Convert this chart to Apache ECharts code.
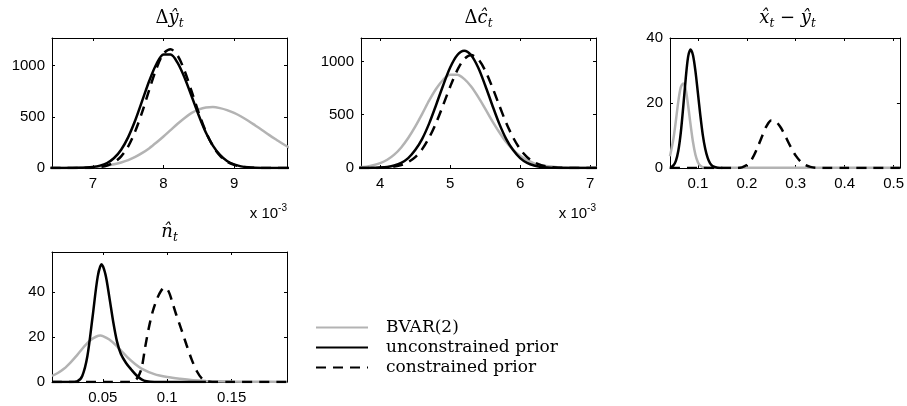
<!DOCTYPE html>
<html>
<head>
<meta charset="utf-8">
<script src="https://cdn.jsdelivr.net/npm/echarts@6/dist/echarts.min.js"></script>
<style>
  html, body { margin: 0; padding: 0; background: #fff; }
  #chart { width: 907px; height: 406px; }
</style>
</head>
<body>
<div id="chart"></div>
<script>
// 系列名称
const names = ['BVAR(2)', 'unconstrained prior', 'constrained prior']

// 面板1: Δŷ (单位 10^-3)
const dyX = [6.4, 6.5, 6.6, 6.7, 6.8, 6.9, 7.0, 7.1, 7.2, 7.3, 7.4, 7.5, 7.6, 7.7, 7.8, 7.9, 8.0, 8.1, 8.2, 8.3, 8.4, 8.5, 8.6, 8.7, 8.8, 8.9, 9.0, 9.1, 9.2, 9.3, 9.4, 9.5, 9.6, 9.7, 9.8]
const dyBvar = [0.3, 0.5, 1, 1.8, 3.2, 5.5, 9.2, 15, 24, 36, 54, 77, 109, 148, 194, 249, 308, 370, 432, 489, 538, 572, 592, 595, 585, 566, 538, 503, 462, 416, 369, 321, 276, 232, 193]
const dyUnc = [0, 0, 0, 0.4, 1.3, 3.7, 9.5, 23, 49, 98, 179, 302, 466, 660, 855, 1016, 1108, 1109, 1027, 880, 699, 513, 347, 219, 128, 69, 35, 16, 7, 3, 1, 0.4, 0, 0, 0]
const dyCon = [0, 0, 0, 0, 0.3, 1.1, 3.5, 10, 24, 55, 113, 212, 360, 551, 769, 972, 1118, 1160, 1098, 947, 746, 538, 355, 215, 120, 62, 30, 13, 5, 2, 0.7, 0, 0, 0, 0]

// 面板2: Δĉ (单位 10^-3)
const dcX = [3.7, 3.8, 3.9, 4.0, 4.1, 4.2, 4.3, 4.4, 4.5, 4.6, 4.7, 4.8, 4.9, 5.0, 5.1, 5.2, 5.3, 5.4, 5.5, 5.6, 5.7, 5.8, 5.9, 6.0, 6.1, 6.2, 6.3, 6.4, 6.5, 6.6, 6.7, 6.8, 6.9, 7.0, 7.1]
const dcBvar = [6, 13, 25, 45, 77, 125, 193, 281, 388, 508, 634, 744, 828, 874, 875, 836, 764, 667, 557, 443, 338, 244, 171, 114, 73, 44, 26, 16, 10, 7, 5, 4, 3, 2.5, 2]
const dcUnc = [0, 0.6, 1.6, 4.3, 10, 23, 48, 93, 168, 274, 419, 594, 777, 943, 1058, 1100, 1058, 943, 777, 594, 419, 274, 168, 93, 48, 23, 10, 4.3, 1.6, 0.6, 0, 0, 0, 0, 0]
const dcCon = [0, 0.3, 0.8, 2, 5.5, 13, 27.5, 55, 102, 177, 286, 425, 591, 763, 916, 1022, 1060, 1022, 916, 763, 591, 425, 286, 177, 102, 55, 27.5, 13, 5.5, 2, 0.8, 0.3, 0, 0, 0]

// 面板3: x̂ - ŷ
const xyBvarX = [0.043, 0.05, 0.055, 0.06, 0.065, 0.07, 0.075, 0.08, 0.085, 0.09, 0.095, 0.1, 0.105, 0.11, 0.12, 0.13, 0.15, 0.2, 0.3, 0.4, 0.513]
const xyBvar = [3.6, 9, 14.5, 20.5, 24.8, 26, 24.2, 19.3, 13.4, 8, 4.1, 1.8, 0.7, 0.25, 0.1, 0.05, 0.05, 0.05, 0.05, 0.05, 0.05]
const xyUncX = [0.043, 0.05, 0.055, 0.06, 0.065, 0.07, 0.075, 0.08, 0.085, 0.09, 0.095, 0.1, 0.105, 0.11, 0.115, 0.12, 0.125, 0.13, 0.14, 0.15]
const xyUnc = [0, 0.8, 2.2, 5.3, 10.8, 18.7, 27.3, 34.2, 36.5, 34.7, 29.8, 23.1, 16.2, 10.2, 5.9, 3.1, 1.4, 0.6, 0.1, 0]
const xyConX = [0.043, 0.1, 0.15, 0.18, 0.19, 0.2, 0.21, 0.22, 0.23, 0.24, 0.25, 0.26, 0.27, 0.28, 0.29, 0.3, 0.31, 0.32, 0.33, 0.34, 0.36, 0.4, 0.45, 0.513]
const xyCon = [0, 0, 0, 0, 0.2, 0.9, 2.6, 5.6, 9.3, 12.8, 14.6, 14.2, 12.3, 9.4, 6.4, 3.8, 2.0, 0.9, 0.35, 0.1, 0, 0, 0, 0]

// 面板4: n̂
const nBvarX = [0.0105, 0.015, 0.02, 0.025, 0.03, 0.035, 0.04, 0.045, 0.048, 0.05, 0.055, 0.06, 0.065, 0.07, 0.075, 0.08, 0.09, 0.1, 0.11, 0.12, 0.13, 0.15, 0.17, 0.193]
const nBvar = [2.7, 4, 6, 8.8, 12, 15.5, 18.5, 20.3, 20.7, 20.5, 19, 16.5, 13.5, 10.5, 8, 6, 3.5, 2.2, 1.4, 0.8, 0.5, 0.2, 0.1, 0.05]
const nUncX = [0.0105, 0.025, 0.03, 0.034, 0.038, 0.042, 0.046, 0.049, 0.052, 0.055, 0.058, 0.061, 0.064, 0.068, 0.072, 0.076, 0.08, 0.084, 0.09, 0.13]
const nUnc = [0, 0, 0.3, 2.7, 11.6, 29, 47, 52.5, 48, 38, 27, 18, 12.5, 8.5, 5.6, 3, 1.2, 0.3, 0, 0]
const nConX = [0.0105, 0.05, 0.07, 0.074, 0.077, 0.08, 0.083, 0.086, 0.089, 0.092, 0.095, 0.098, 0.101, 0.104, 0.107, 0.111, 0.115, 0.119, 0.123, 0.127, 0.131, 0.135, 0.15, 0.193]
const nCon = [0, 0, 0, 0.3, 2, 6, 16, 25, 32, 37, 40.5, 42.2, 40.5, 35.5, 30, 23.4, 16.5, 10, 4.8, 1.5, 0.3, 0, 0, 0]

// 坐标轴范围和刻度
const panelXMin = [6.42, 3.725, 0.043, 0.0105]
const panelXMax = [9.75, 7.085, 0.513, 0.193]
const panelYMax = [1270, 1220, 40, 58]
const panelXTicks = [[7, 8, 9], [4, 5, 6, 7], [0.1, 0.2, 0.3, 0.4, 0.5], [0.05, 0.1, 0.15]]
const panelYTicks = [[0, 500, 1000], [0, 500, 1000], [0, 20, 40], [0, 20, 40]]

// 每个面板的曲线 [x, y]
const panelCurves = [
  [[dyX, dyBvar], [dyX, dyUnc], [dyX, dyCon]],
  [[dcX, dcBvar], [dcX, dcUnc], [dcX, dcCon]],
  [[xyBvarX, xyBvar], [xyUncX, xyUnc], [xyConX, xyCon]],
  [[nBvarX, nBvar], [nUncX, nUnc], [nConX, nCon]],
]

// 子图位置
const boxes = [
  { left: 52, top: 38 },
  { left: 361, top: 38 },
  { left: 670, top: 38 },
  { left: 52, top: 252 },
]
const boxW = 235
const boxH = 130

const sans = 'Liberation Sans'
const serif = 'DejaVu Serif'
const gray = '#b3b3b3'

function pairs(xs, ys) {
  return xs.map((x, i) => [x, ys[i]])
}

// 一个方向的坐标轴, 有标签或只有刻度
function makeAxis(i, pos, min, max, ticks, withLabel) {
  return {
    type: 'value',
    gridIndex: i,
    position: pos,
    min,
    max,
    axisLine: { show: true, onZero: false, lineStyle: { color: '#000', width: 1 } },
    axisTick: { show: true, inside: true, length: 3, customValues: ticks, lineStyle: { color: '#000', width: 1 } },
    axisLabel: {
      show: withLabel,
      customValues: ticks,
      formatter: v => String(v),
      margin: pos === 'left' ? 7 : 8,
      color: '#000',
      fontFamily: sans,
      fontSize: 15,
    },
    splitLine: { show: false },
  }
}

const grid = []
const xAxis = []
const yAxis = []
const series = []

boxes.forEach((b, i) => {
  grid.push({ left: b.left, top: b.top, width: boxW, height: boxH })
  xAxis.push(makeAxis(i, 'bottom', panelXMin[i], panelXMax[i], panelXTicks[i], true))
  xAxis.push(makeAxis(i, 'top', panelXMin[i], panelXMax[i], panelXTicks[i], false))
  yAxis.push(makeAxis(i, 'left', 0, panelYMax[i], panelYTicks[i], true))
  yAxis.push(makeAxis(i, 'right', 0, panelYMax[i], panelYTicks[i], false))

  panelCurves[i].forEach((c, k) => {
    series.push({
      name: names[k],
      type: 'line',
      xAxisIndex: 2 * i,
      yAxisIndex: 2 * i,
      data: pairs(c[0], c[1]),
      symbol: 'none',
      showSymbol: false,
      smooth: 0.3,
      lineStyle: {
        color: k === 0 ? gray : '#000',
        width: 2.5,
        type: k === 2 ? [10, 7] : 'solid',
      },
      itemStyle: { color: k === 0 ? gray : '#000' },
    })
  })
})

// 标题 (数学符号)
const titleRich = {
  u: { fontFamily: serif, fontSize: 18, color: '#444', lineHeight: 24 },
  m: { fontFamily: serif, fontSize: 18, fontStyle: 'italic', color: '#444', lineHeight: 24 },
  s: { fontFamily: serif, fontSize: 12, fontStyle: 'italic', color: '#444', lineHeight: 12, verticalAlign: 'bottom' },
}
const titles = [
  '{u|Δ}{m|ŷ}{s|t}',
  '{u|Δ}{m|ĉ}{s|t}',
  '{m|x̂}{s|t}{u| − }{m|ŷ}{s|t}',
  '{m|n̂}{s|t}',
]
const graphic = titles.map((t, i) => ({
  type: 'text',
  x: boxes[i].left + boxW / 2,
  y: boxes[i].top - 20,
  style: { text: t, rich: titleRich, align: 'center', verticalAlign: 'middle', textAlign: 'center', textVerticalAlign: 'middle' },
}))

// x 10^-3 标注
const expRich = {
  b: { fontFamily: sans, fontSize: 15, color: '#000', lineHeight: 18, verticalAlign: 'bottom' },
  p: { fontFamily: sans, fontSize: 10, color: '#000', lineHeight: 8, verticalAlign: 'top' },
}
;[0, 1].forEach(i => {
  graphic.push({
    type: 'text',
    x: boxes[i].left + boxW,
    y: 212,
    style: { text: '{b|x 10}{p|-3}', rich: expRich, align: 'right', verticalAlign: 'middle', textAlign: 'right', textVerticalAlign: 'middle' },
  })
})

const chart = echarts.init(document.getElementById('chart'))
chart.setOption({
  animation: false,
  backgroundColor: '#fff',
  grid,
  xAxis,
  yAxis,
  series,
  graphic,
  legend: {
    data: names,
    orient: 'vertical',
    left: 315,
    top: 319,
    padding: 0,
    itemWidth: 52,
    itemHeight: 14,
    itemGap: 3,
    selectedMode: false,
    itemStyle: { opacity: 0 },
    textStyle: { fontFamily: serif, fontSize: 17, color: '#000', padding: [0, 0, 0, 13] },
  },
})
</script>
</body>
</html>
